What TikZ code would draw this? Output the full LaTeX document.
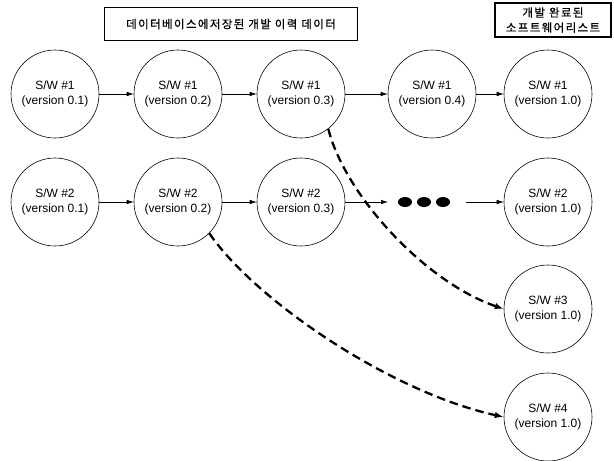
\documentclass[tikz,border=0pt]{standalone}
\usepackage{fontspec}
\setmainfont{Liberation Sans}
\newfontfamily\krfont[LetterSpace=12,FakeBold=0.6]{Noto Sans CJK KR}
\usetikzlibrary{arrows.meta,shapes.geometric}

\begin{document}
\begin{tikzpicture}[x=1pt,y=-1pt,
  ver/.style={circle,draw,line width=0.6pt,minimum size=88pt,inner sep=0pt,
    align=center,font=\fontsize{12}{15}\selectfont},
  flow/.style={line width=0.6pt,-{Latex[length=7pt,width=4.5pt]}},
  derive/.style={line width=2.3pt,dash pattern=on 8.5pt off 5pt,
    -{Latex[length=9pt,width=6.5pt]}},
  titlebox/.style={draw,line width=1.1pt,align=center,inner sep=0pt,
    font=\krfont\fontsize{11.5}{15}\selectfont},
  dotmark/.style={ellipse,fill=black,minimum width=14pt,minimum height=10pt,inner sep=0pt}]
\useasboundingbox (0,0) rectangle (614,461);

% headings
\node[titlebox,minimum width=253pt,minimum height=33pt] (hist) at (231,24)
  {데이터베이스에저장된 개발 이력 데이터};
\node[titlebox,minimum width=116pt,minimum height=34pt] (done) at (553,20)
  {개발 완료된\\소프트웨어리스트};

% S/W #1 history
\node[ver] (n11) at (55,94)  {S/W \#1\\(version 0.1)};
\node[ver] (n12) at (178,94) {S/W \#1\\(version 0.2)};
\node[ver] (n13) at (301,94) {S/W \#1\\(version 0.3)};
\node[ver] (n14) at (432,94) {S/W \#1\\(version 0.4)};
\node[ver] (n15) at (548,94) {S/W \#1\\(version 1.0)};

% S/W #2 history
\node[ver] (n21) at (55,202)  {S/W \#2\\(version 0.1)};
\node[ver] (n22) at (178,202) {S/W \#2\\(version 0.2)};
\node[ver] (n23) at (301,202) {S/W \#2\\(version 0.3)};
\node[ver] (n25) at (548,202) {S/W \#2\\(version 1.0)};

% derived products
\node[ver] (n35) at (548,309) {S/W \#3\\(version 1.0)};
\node[ver] (n45) at (548,417) {S/W \#4\\(version 1.0)};

% ellipsis between versions
\node[dotmark] (d1) at (405,202) {};
\node[dotmark] (d2) at (424,202) {};
\node[dotmark] (d3) at (443,202) {};
\coordinate (e1) at (388,202);
\coordinate (e2) at (466,202);

% version flow
\draw[flow] (n11) -- (n12);
\draw[flow] (n12) -- (n13);
\draw[flow] (n13) -- (n14);
\draw[flow] (n14) -- (n15);
\draw[flow] (n21) -- (n22);
\draw[flow] (n22) -- (n23);
\draw[flow] (n23) -- (e1);
\draw[flow] (e2) -- (n25);

% branches into new products
\draw[derive] (n13.-52) .. controls (345,195) and (425,282) .. (n35.west);
\draw[derive] (n22.-45) .. controls (255,300) and (390,392) .. (n45.west);
\end{tikzpicture}
\end{document}
